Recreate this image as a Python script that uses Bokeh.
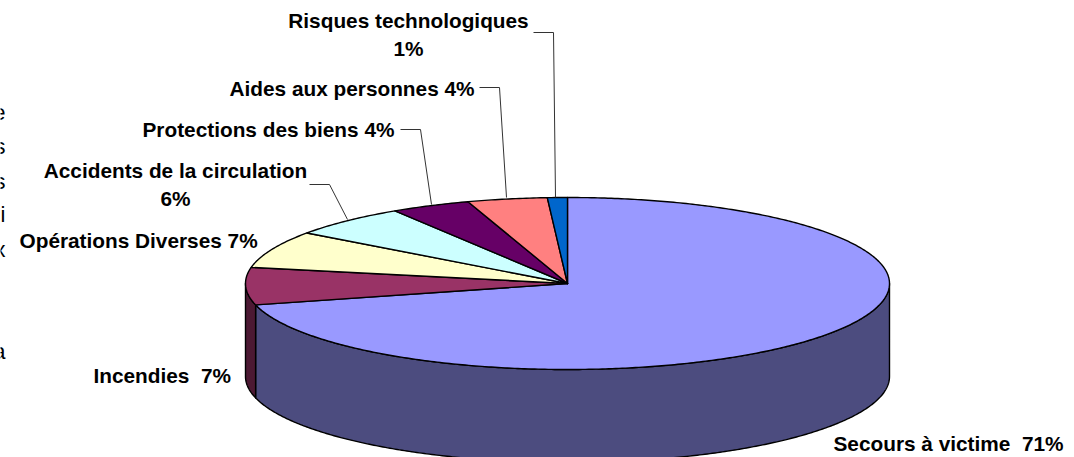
import numpy as np
from bokeh.plotting import figure
from bokeh.models import ColumnDataSource
from bokeh.core.properties import value
from bokeh.embed import file_html
from bokeh.resources import INLINE

categories = ["Secours à victime", "Incendies", "Opérations Diverses", "Accidents de la circulation",
              "Protections des biens", "Aides aux personnes", "Risques technologiques"]
shares = [71, 7, 7, 6, 4, 4, 1]
top_colors = ["#9999FF", "#993366", "#FFFFCC", "#CCFFFF", "#660066", "#FF8080", "#0066CC"]
side_colors = ["#4C4C7F", "#4C1933", "#7F7F66", "#667F7F", "#330033", "#7F4040", "#003366"]

label_texts = ["Risques technologiques", "1%", "Aides aux personnes 4%", "Protections des biens 4%",
               "Accidents de la circulation", "6%", "Opérations Diverses 7%", "Incendies\u00a0 7%",
               "Secours à victime\u00a0 71%"]
label_x = [408, 408, 229, 142, 175, 175, 19, 93, 833]
label_y = [20, 48, 88, 129, 170, 198, 240, 375, 443]
label_align = ["center", "center", "left", "left", "center", "center", "left", "left", "left"]

leader_x = [[533, 553, 555], [479, 499, 506], [400, 420, 431], [309, 329, 347]]
leader_y = [[32, 32, 197], [87, 87, 197], [129, 129, 204], [184, 184, 219]]

cut_letters = ["e", "s", "s", "i", "x", "a"]
cut_y = [112, 146, 181, 214, 249, 351]

cx, cy, a, b, depth = 567, 283, 322, 86, 93
W, H = 1074, 457


def ex(t):
    return cx + a * np.sin(np.radians(t))


def ey(t):
    return cy - b * np.cos(np.radians(t))


edges = np.concatenate([[0], np.cumsum(shares)]) * 3.6
top_xs, top_ys, side_xs, side_ys, side_fill = [], [], [], [], []
for i in range(len(shares)):
    t = np.linspace(edges[i], edges[i + 1], max(3, int(shares[i] * 6)))
    top_xs.append(np.concatenate([[cx], ex(t)]))
    top_ys.append(np.concatenate([[cy], ey(t)]))
    lo, hi = max(edges[i], 90), min(edges[i + 1], 270)
    if hi > lo:
        s = np.linspace(lo, hi, max(3, int((hi - lo) * 2)))
        side_xs.append(np.concatenate([ex(s), ex(s)[::-1]]))
        side_ys.append(np.concatenate([ey(s), ey(s)[::-1] + depth]))
        side_fill.append(side_colors[i])

p = figure(width=W, height=H, x_range=(0, W), y_range=(H, 0), output_backend="svg",
           toolbar_location=None, min_border=0,
           outline_line_color=None, background_fill_color="white", border_fill_color="white")
p.xaxis.visible = False
p.yaxis.visible = False
p.grid.visible = False

p.patches(side_xs, side_ys, fill_color=side_fill, line_color="#000000", line_width=1.4, line_join="round")
p.patches(top_xs, top_ys, fill_color=top_colors, line_color="#000000", line_width=1.4, line_join="round")
p.multi_line(leader_x, leader_y, line_color="#333333", line_width=1)

p.text(x="x", y="y", text="t", text_align="a",
       source=ColumnDataSource(dict(x=label_x, y=label_y, t=label_texts, a=label_align)),
       text_font=value("Liberation Sans"), text_font_style="bold", text_font_size="20.8px",
       text_baseline="middle", text_color="#000000")
p.text(x=[5] * len(cut_letters), y=cut_y, text=cut_letters, text_align="right", text_baseline="middle",
       text_font=value("Liberation Sans"), text_font_size="22px", text_color="#000000")

open("out.html", "w").write(file_html(p, INLINE))
